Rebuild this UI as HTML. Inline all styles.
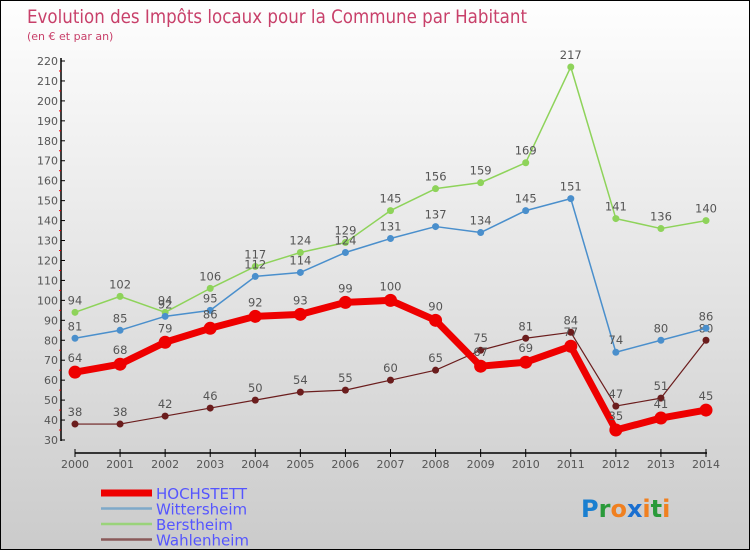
<!DOCTYPE html>
<html><head><meta charset="utf-8"><style>
body{margin:0;}
#c{width:748px;height:548px;border:1px solid #000;background:linear-gradient(#fefefe,#cbcbcb);position:relative;font-family:"DejaVu Sans","Liberation Sans",sans-serif;overflow:hidden}
svg text{font-family:"DejaVu Sans","Liberation Sans",sans-serif}
</style></head><body>
<div id="c">
<svg id="s" width="748" height="548"></svg>
</div>
<script>
const years=[2000,2001,2002,2003,2004,2005,2006,2007,2008,2009,2010,2011,2012,2013,2014];
const hochstett=[64,68,79,86,92,93,99,100,90,67,69,77,35,41,45];
const wittersheim=[81,85,92,95,112,114,124,131,137,134,145,151,74,80,86];
const berstheim=[94,102,94,106,117,124,129,145,156,159,169,217,141,136,140];
const wahlenheim=[38,38,42,46,50,54,55,60,65,75,81,84,47,51,80];
const yTicks=[30,40,50,60,70,80,90,100,110,120,130,140,150,160,170,180,190,200,210,220];
const NS='http://www.w3.org/2000/svg';
const s=document.getElementById('s');
const X=i=>74+i*(705-74)/14;
const Y=v=>439-(v-30)*(439-60)/190;
function el(t,a,p){const e=document.createElementNS(NS,t);for(const k in a)e.setAttribute(k,a[k]);(p||s).appendChild(e);return e;}
const title=el('text',{x:26,y:22,'font-size':19,fill:'#c8406a',textLength:500,lengthAdjust:'spacingAndGlyphs'});title.textContent='Evolution des Impôts locaux pour la Commune par Habitant';


const sub=el('text',{x:26,y:39,'font-size':11,fill:'#c8406a'});sub.textContent='(en € et par an)';


const ya=el('line',{x1:60,y1:57,x2:60,y2:440,stroke:'#000','stroke-width':1.5});


yTicks.forEach(v=>{
 el('line',{x1:60,x2:64,y1:Y(v),y2:Y(v),stroke:'#000'});
 if(v<220) el('line',{x1:58,x2:60,y1:Y(v+5),y2:Y(v+5),stroke:'#e00'});
 const t=el('text',{x:57,y:Y(v)+4,'font-size':11,fill:'#555','text-anchor':'end'});t.textContent=v;
 
 
});
const xa=el('line',{x1:74,y1:452,x2:706,y2:452,stroke:'#000','stroke-width':1.5});


years.forEach((y,i)=>{
 el('line',{x1:X(i),x2:X(i),y1:448,y2:456,stroke:'#000'});
 const t=el('text',{x:X(i),y:467,'font-size':11,fill:'#555','text-anchor':'middle'});t.textContent=y;
 
 
});
function series(data,color,w,r,name,labelOff){
 const g=el('g',{});
 
 
 const pts=data.map((v,i)=>X(i)+','+Y(v)).join(' ');
 el('polyline',{points:pts,fill:'none',stroke:color,'stroke-width':w,'stroke-linejoin':'round'},g);
 data.forEach((v,i)=>{
  const c=el('circle',{cx:X(i),cy:Y(v),r:r,fill:color},g);
  
  
  const t=el('text',{x:X(i),y:Y(v)+labelOff,'font-size':11.5,fill:'#555','text-anchor':'middle'},g);t.textContent=v;
 });
}
series(wahlenheim,'#6b1d1d',1.2,3.5,'wahlenheim',-8);
series(berstheim,'#8ed35a',1.5,3.5,'berstheim',-8);
series(wittersheim,'#4a8fcc',1.5,3.5,'wittersheim',-8);
series(hochstett,'#ee0000',7,6.5,'hochstett',-10);
const leg=[['HOCHSTETT','#ee0000',7],['Wittersheim','#7ea9c9',2.5],['Berstheim','#9ad37a',2.5],['Wahlenheim','#8a5a5a',2.5]];
leg.forEach((l,i)=>{
 const y=492+i*15.5;
 const g=el('g',{});
 
 
 el('line',{x1:100,x2:151,y1:y,y2:y,stroke:l[1],'stroke-width':l[2]},g);
 const t=el('text',{x:155,y:y+6,'font-size':15,fill:'#5555ff'},g);t.textContent=l[0];
});
const lg=el('text',{x:580,y:516,'font-size':24,'font-weight':'bold'});


[['P','#1a7fd0'],['r','#2a9a3a'],['o','#f08020'],['x','#1a6fd0'],['i','#f08020'],['t','#2a9a3a'],['i','#f08020']].forEach(p=>{const ts=el('tspan',{fill:p[1]},lg);ts.textContent=p[0];});
</script>
</body></html>
